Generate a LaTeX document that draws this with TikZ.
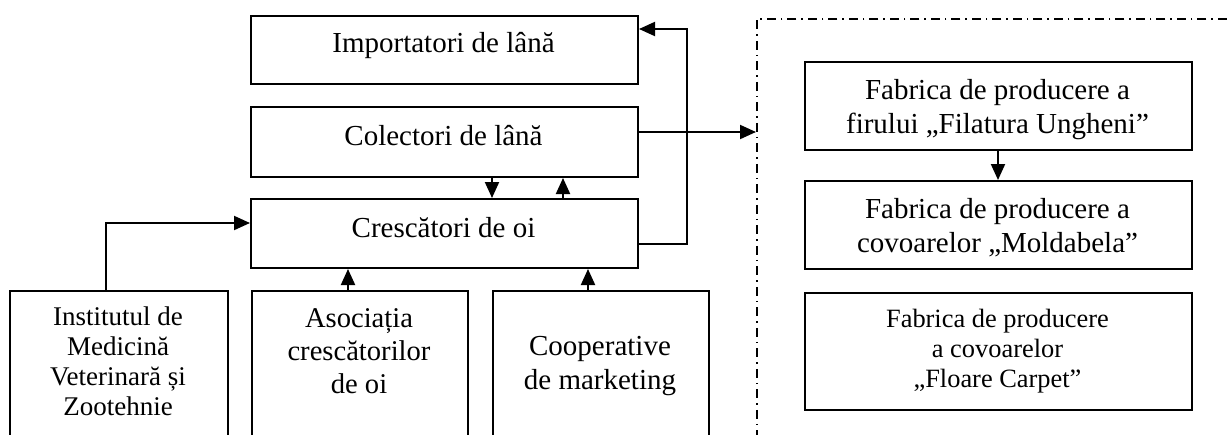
\documentclass[tikz,border=0pt]{standalone}
\usepackage{fontspec}
\setmainfont{Liberation Serif}
\usetikzlibrary{arrows.meta,calc}
\tikzset{
  box/.style={draw, line width=2pt, inner sep=0pt, anchor=north west},
  lbl/.style={inner sep=0pt, align=center, anchor=base, font=\fontsize{29}{34}\selectfont},
  lblaso/.style={lbl, font=\fontsize{28.6}{33}\selectfont},
  lblsmall/.style={lbl, font=\fontsize{27}{30}\selectfont},
  lblf/.style={lbl, font=\fontsize{26.4}{30}\selectfont},
  conn/.style={line width=2pt},
  arr/.style={conn, -{Triangle[length=16pt,width=14pt]}},
  grpbox/.style={draw, line width=1.6pt, dash pattern=on 9pt off 5pt on 1.5pt off 5pt, anchor=north west, inner sep=0pt}
}
\begin{document}
\begin{tikzpicture}[x=1pt,y=-1pt]
\useasboundingbox (0,0) rectangle (1229,434);
\clip (0,0) rectangle (1229,434);
% left column boxes
\node[box, minimum width=387pt, minimum height=68pt] (imp) at (250,15) {};
\node[box, minimum width=387pt, minimum height=70pt] (col) at (250,106) {};
\node[box, minimum width=387pt, minimum height=69pt] (cres) at (250,198) {};
\node[box, minimum width=218pt, minimum height=200pt] (inst) at (9,290) {};
\node[box, minimum width=216pt, minimum height=200pt] (aso) at (251,290) {};
\node[box, minimum width=216pt, minimum height=200pt] (coop) at (492,290) {};
% group
\node[grpbox, minimum width=600pt, minimum height=500pt] (grp) at (756,18) {};
\node[box, minimum width=387pt, minimum height=88pt] (f1) at (804,61) {};
\node[box, minimum width=387pt, minimum height=88pt] (f2) at (804,180) {};
\node[box, minimum width=387pt, minimum height=117pt] (f3) at (804,292) {};
% texts (anchor = baseline of the last line)
\node[lbl] (impT) at (443.5,52) {Importatori de lână};
\node[lbl] (colT) at (443.5,145) {Colectori de lână};
\node[lbl] (cresT) at (443.5,237) {Crescători de oi};
\node[lblsmall] (instT) at (118,415) {Institutul de\\Medicină\\Veterinară și\\Zootehnie};
\node[lblaso] (asoT) at (359,393) {Asociația\\crescătorilor\\de oi};
\node[lbl] (coopT) at (600,389) {Cooperative\\de marketing};
\node[lbl] (f1T) at (997.5,133) {Fabrica de producere a\\firului „Filatura Ungheni”};
\node[lbl] (f2T) at (997.5,252) {Fabrica de producere a\\covoarelor „Moldabela”};
\node[lblf] (f3T) at (997.5,387) {Fabrica de producere\\a covoarelor\\„Floare Carpet”};
% helper coordinates
\coordinate (xa) at (492,0);
\coordinate (xb) at (563,0);
\coordinate (xc) at (106,0);
\coordinate (xd) at (348,0);
\coordinate (xe) at (588,0);
\coordinate (xf) at (998,0);
\coordinate (cresout) at ($(cres.east)+(0,10.5)$);
\coordinate (impin) at ($(imp.east)+(0,-21)$);
\coordinate (colout) at ($(col.east)+(0,-10)$);
\coordinate (cin) at ($(cres.west)+(0,-10.5)$);
% connectors
\draw[arr] (cresout) -- ++(48,0) |- (impin);
\draw[arr] (colout) -- (colout -| grp.west);
\draw[arr] (col.south -| xa) -- (cres.north -| xa);
\draw[arr] (cres.north -| xb) -- (col.south -| xb);
\draw[arr] (inst.north -| xc) |- (cin);
\draw[arr] (aso.north -| xd) -- (cres.south -| xd);
\draw[arr] (coop.north -| xe) -- (cres.south -| xe);
\draw[arr] (f1.south -| xf) -- (f2.north -| xf);
\end{tikzpicture}
\end{document}
